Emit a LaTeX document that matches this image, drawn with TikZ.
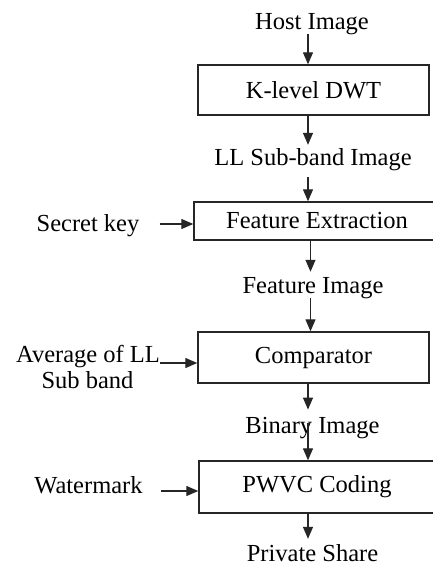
\documentclass[tikz,border=0pt]{standalone}
\usepackage{fontspec}
\setmainfont{Liberation Serif}
\usetikzlibrary{arrows.meta,calc}
\begin{document}
\begin{tikzpicture}[x=1pt,y=-1pt,
  lbl/.style={inner sep=0pt,anchor=base,font=\fontsize{24.5}{28}\selectfont},
  blk/.style={draw=black!85,line width=1.4pt,inner sep=0pt,font=\fontsize{24.5}{28}\selectfont},
  arr/.style={draw=black!85,line width=1.3pt,-{Triangle[length=12pt,width=10pt]}}]
\useasboundingbox (0,0) rectangle (433,566);
\coordinate (ax) at (308,0);
\coordinate (bx) at (310.5,0);
% boxes
\node[blk,minimum width=231pt,minimum height=50pt] (dwt) at (313.5,90) {K-level DWT};
\node[blk,minimum width=246pt,minimum height=38pt] (fe) at (317,221) {Feature Extraction};
\node[blk,minimum width=231pt,minimum height=51pt] (cmp) at (313.5,357.5) {Comparator};
\node[blk,minimum width=236pt,minimum height=52pt] (pw) at (317,487) {PWVC Coding};
% labels
\node[lbl] (host) at (312,29) {Host Image};
\node[lbl] (ll) at (313,165) {LL Sub-band Image};
\node[lbl] (fi) at (313,293) {Feature Image};
\node[lbl] (bi) at (312.5,433) {Binary Image};
\node[lbl] (ps) at (312.5,561) {Private Share};
\node[lbl] (sk) at (88,231) {Secret key};
\node[lbl] (avg1) at (88,362) {Average of LL};
\node[lbl] (avg2) at (87.5,388) {Sub band};
\node[lbl] (wm) at (88.5,493) {Watermark};
% vertical connectors
\draw[arr] (host.south -| ax) -- (dwt.north -| ax);
\draw[arr,shorten >=3pt] (dwt.south -| ax) -- (ll.north -| ax);
\draw[arr,shorten <=7pt] (ll.south -| ax) -- (fe.north -| ax);
\draw[arr,shorten >=5pt] (fe.south -| bx) -- (fi.north -| bx);
\draw[arr] (fi.south -| bx) -- (cmp.north -| bx);
\draw[arr,shorten >=7pt] (cmp.south -| ax) -- (bi.north -| ax);
\coordinate (bis) at ($(bi.base -| ax)+(0,-10)$);
\draw[arr] (bis) -- (pw.north -| ax);
\draw[arr,shorten >=5pt] (pw.south -| ax) -- (ps.north -| ax);
% horizontal connectors
\coordinate (sks) at ($(sk.base east)+(20,-7)$);
\draw[arr] (sks) -- (sks -| fe.west);
\coordinate (avs) at ($(avg1.base east)+(0,1)$);
\draw[arr] (avs) -- (avs -| cmp.west);
\coordinate (wms) at ($(wm.base east)+(18,-2)$);
\draw[arr] (wms) -- (wms -| pw.west);
\end{tikzpicture}
\end{document}
